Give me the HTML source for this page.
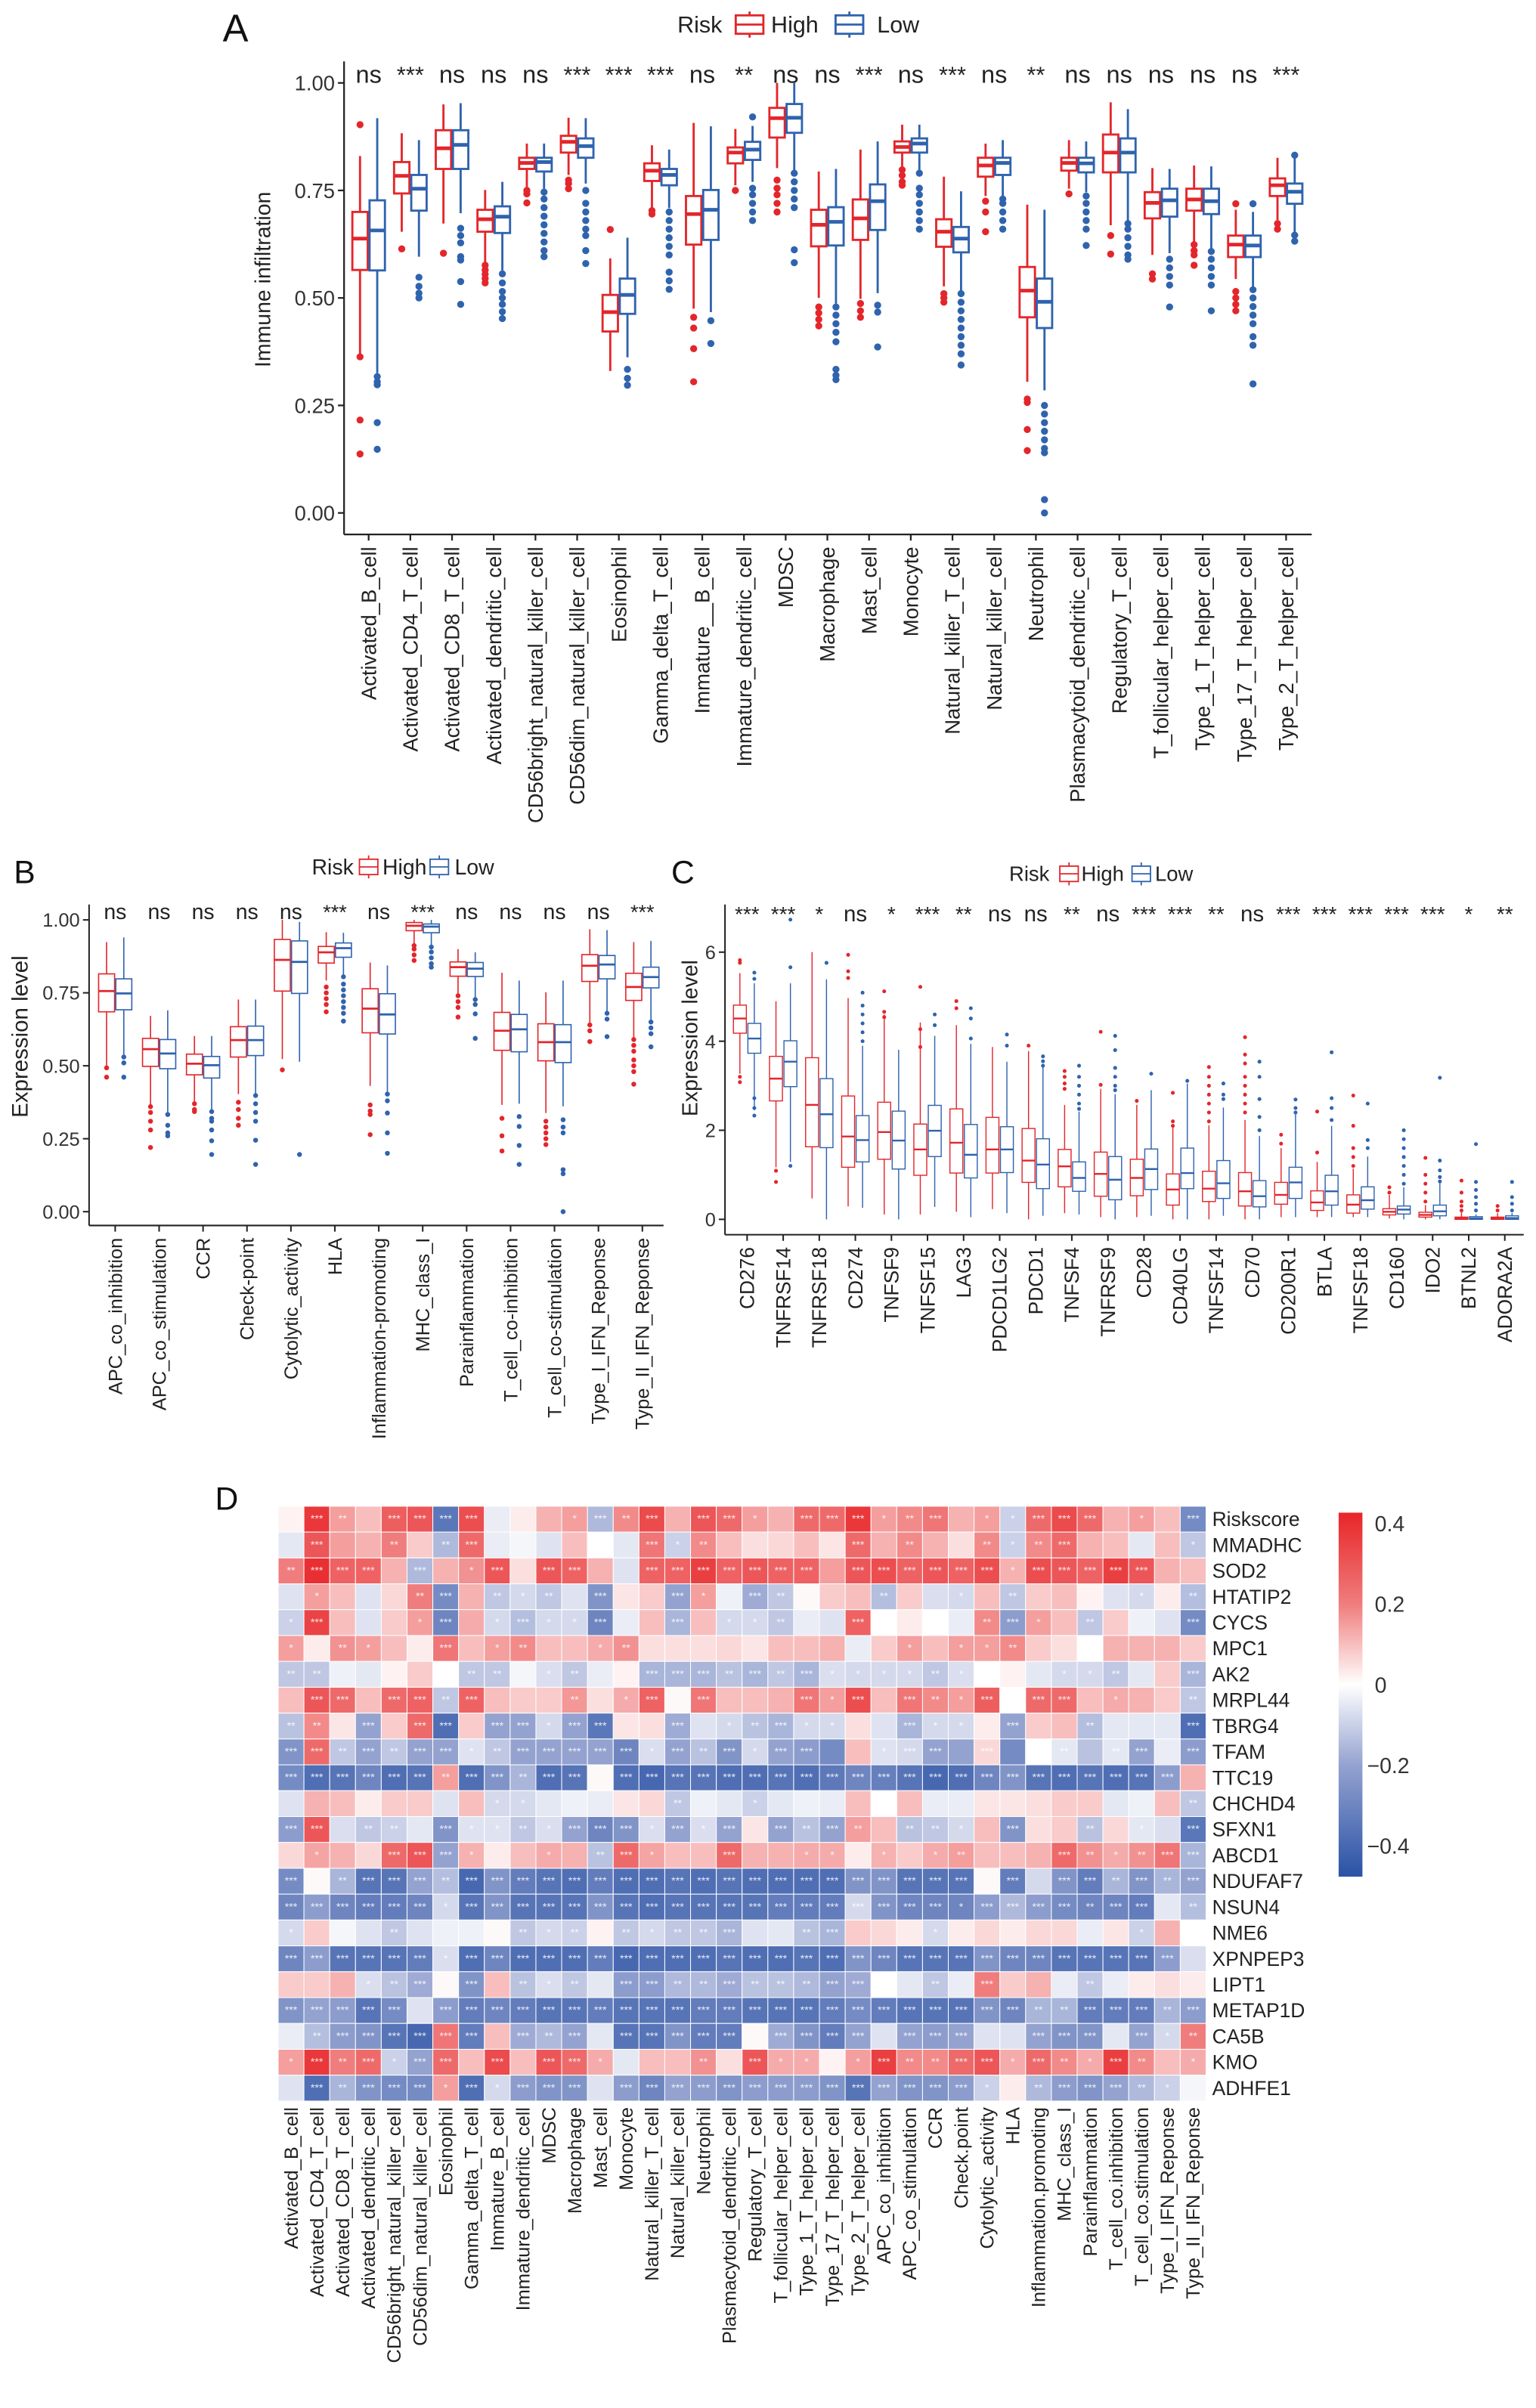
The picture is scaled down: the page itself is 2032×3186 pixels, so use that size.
<!DOCTYPE html>
<html><head><meta charset="utf-8"><title>Immune infiltration figure</title>
<style>
html,body{margin:0;padding:0;background:#fff;}
svg{display:block;font-family:"Liberation Sans",Arial,sans-serif;}
</style></head>
<body>
<svg id="fig" xmlns="http://www.w3.org/2000/svg" width="2032" height="3186" viewBox="0 0 1000 1568" preserveAspectRatio="none">
<rect x="0" y="0" width="1000" height="1568" fill="#fff"/>
</svg>
<script>
// ===== Panel A data =====
const aCats = ["Activated_B_cell","Activated_CD4_T_cell","Activated_CD8_T_cell","Activated_dendritic_cell","CD56bright_natural_killer_cell","CD56dim_natural_killer_cell","Eosinophil","Gamma_delta_T_cell","Immature__B_cell","Immature_dendritic_cell","MDSC","Macrophage","Mast_cell","Monocyte","Natural_killer_T_cell","Natural_killer_cell","Neutrophil","Plasmacytoid_dendritic_cell","Regulatory_T_cell","T_follicular_helper_cell","Type_1_T_helper_cell","Type_17_T_helper_cell","Type_2_T_helper_cell"];
const aSig = ["ns","***","ns","ns","ns","***","***","***","ns","**","ns","ns","***","ns","***","ns","**","ns","ns","ns","ns","ns","***"];
// [lowerWhisker, q1, median, q3, upperWhisker]
const aHighStats = [[.37,.565,.638,.70,.83],[.654,.743,.784,.816,.883],[.673,.80,.848,.89,.95],[.58,.654,.683,.705,.751],[.758,.80,.814,.826,.859],[.786,.838,.863,.877,.919],[.33,.422,.467,.507,.592],[.709,.772,.796,.813,.855],[.475,.624,.695,.737,.907],[.762,.813,.838,.85,.893],[.802,.873,.918,.942,1.0],[.5,.62,.67,.705,.794],[.498,.635,.685,.729,.845],[.802,.838,.851,.864,.903],[.527,.619,.654,.683,.782],[.737,.782,.808,.826,.859],[.305,.455,.517,.572,.717],[.754,.796,.814,.826,.867],[.669,.792,.838,.88,.955],[.60,.685,.721,.746,.802],[.628,.703,.729,.754,.808],[.544,.595,.624,.645,.705],[.681,.737,.762,.778,.826]];
const aHighOut = [[.903,.363,.216,.137],[.614],[.604],[.576,.565,.555,.545,.535],[.75,.742,.721],[.774,.766,.754],[.659],[.703,.695],[.455,.43,.382,.305],[.75],[.774,.755,.74,.72,.70],[.479,.465,.45,.435],[.487,.47,.455],[.798,.785,.77,.762],[.51,.50,.49],[.725,.70,.654],[.265,.257,.194,.145],[.742],[.645,.602],[.556,.544],[.624,.61,.60,.576],[.719,.515,.50,.485,.47],[.673,.66]];
const aLowStats = [[.325,.564,.657,.727,.918],[.596,.703,.754,.786,.867],[.697,.80,.856,.89,.953],[.564,.651,.689,.713,.77],[.754,.794,.816,.826,.859],[.766,.826,.853,.871,.918],[.362,.463,.507,.545,.64],[.709,.762,.786,.80,.845],[.467,.635,.705,.751,.899],[.77,.821,.845,.863,.90],[.794,.884,.919,.951,1.0],[.487,.622,.677,.711,.80],[.511,.658,.725,.764,.864],[.796,.838,.859,.871,.903],[.515,.606,.638,.665,.748],[.737,.786,.814,.826,.867],[.285,.43,.491,.545,.705],[.746,.792,.813,.826,.864],[.677,.792,.838,.871,.939],[.604,.689,.727,.754,.80],[.614,.695,.725,.754,.806],[.523,.595,.622,.645,.70],[.653,.719,.747,.766,.83]];
const aLowOut = [[.317,.305,.298,.21,.148],[.548,.527,.511,.50],[.662,.645,.628,.596,.588,.538,.485],[.556,.535,.515,.50,.485,.468,.452],[.746,.73,.71,.69,.67,.65,.63,.61,.596],[.75,.72,.70,.68,.66,.645,.61,.58],[.334,.313,.297],[.70,.68,.66,.64,.62,.60,.56,.54,.52],[.447,.394],[.921,.755,.74,.72,.70,.68],[.79,.77,.75,.73,.71,.612,.582],[.479,.46,.44,.42,.398,.334,.32,.31],[.483,.467,.386],[.79,.755,.74,.72,.70,.68,.66],[.51,.49,.47,.45,.43,.41,.39,.37,.344],[.73,.72,.70,.68,.66],[.25,.23,.21,.19,.17,.15,.14,.031,0],[.737,.72,.70,.68,.66,.622],[.673,.66,.64,.62,.60,.59],[.59,.57,.55,.53,.479],[.608,.59,.57,.55,.53,.47],[.719,.519,.50,.48,.46,.44,.41,.39,.30],[.832,.646,.632]];
const aTicks = [0,0.25,0.5,0.75,1];
const aTickLabels = ["0.00","0.25","0.50","0.75","1.00"];

// ===== Panel B data =====
const bCats = ["APC_co_inhibition","APC_co_stimulation","CCR","Check-point","Cytolytic_activity","HLA","Inflammation-promoting","MHC_class_I","Parainflammation","T_cell_co-inhibition","T_cell_co-stimulation","Type_I_IFN_Reponse","Type_II_IFN_Reponse"];
const bSig = ["ns","ns","ns","ns","ns","***","ns","***","ns","ns","ns","ns","***"];
const bHighStats = [[.50,.685,.756,.815,.924],[.366,.498,.557,.594,.671],[.375,.469,.507,.54,.602],[.403,.53,.588,.634,.727],[.523,.756,.863,.933,1.0],[.792,.852,.889,.909,.958],[.431,.613,.696,.764,.854],[.917,.963,.98,.991,1.0],[.745,.807,.838,.856,.90],[.366,.553,.62,.683,.819],[.338,.517,.581,.644,.752],[.644,.789,.843,.881,.968],[.594,.724,.77,.817,.924]];
const bHighOut = [[.493,.461],[.36,.34,.31,.28,.22],[.37,.35,.343],[.375,.35,.32,.296],[.486],[.77,.75,.73,.71,.685],[.366,.345,.333,.264],[.912,.90,.88,.861],[.74,.72,.70,.667],[.32,.26,.208],[.31,.29,.27,.25,.23],[.64,.62,.583],[.59,.57,.55,.52,.50,.48,.437]];
const bLowStats = [[.537,.692,.748,.798,.94],[.338,.49,.542,.59,.69],[.347,.458,.502,.532,.602],[.403,.535,.588,.636,.727],[.514,.748,.856,.928,.993],[.81,.872,.903,.921,.956],[.407,.609,.676,.747,.844],[.912,.956,.977,.986,1.0],[.731,.806,.833,.854,.889],[.37,.548,.625,.676,.792],[.361,.511,.581,.641,.792],[.685,.798,.847,.878,.965],[.653,.767,.804,.838,.928]];
const bLowOut = [[.53,.51,.461],[.333,.296,.27,.26],[.343,.32,.31,.28,.243,.196],[.398,.37,.34,.31,.245,.162],[.196],[.805,.78,.76,.74,.72,.70,.68,.653],[.403,.38,.338,.27,.20],[.907,.89,.87,.85,.838],[.727,.71,.678,.594],[.326,.292,.227,.162],[.315,.29,.27,.144,.13,0],[.68,.66,.60],[.65,.63,.61,.565]];
const bTicks = [0,0.25,0.5,0.75,1];
const bTickLabels = ["0.00","0.25","0.50","0.75","1.00"];

// ===== Panel C data =====
const cCats = ["CD276","TNFRSF14","TNFRSF18","CD274","TNFSF9","TNFSF15","LAG3","PDCD1LG2","PDCD1","TNFSF4","TNFRSF9","CD28","CD40LG","TNFSF14","CD70","CD200R1","BTLA","TNFSF18","CD160","IDO2","BTNL2","ADORA2A"];
const cSig = ["***","***","*","ns","*","***","**","ns","ns","**","ns","***","***","**","ns","***","***","***","***","***","*","**"];
const cHighStats = [[3.27,4.18,4.51,4.81,5.53],[1.17,2.66,3.16,3.66,4.9],[.47,1.63,2.57,3.63,6.0],[.29,1.17,1.86,2.77,4.97],[.11,1.35,1.96,2.63,4.6],[.11,.99,1.57,2.14,4.42],[.17,1.04,1.72,2.48,4.36],[.23,1.04,1.57,2.29,3.87],[0,.83,1.32,2.04,3.78],[.14,.73,1.19,1.57,2.57],[.05,.52,1.02,1.51,2.93],[.05,.53,.93,1.35,2.57],[0,.32,.67,1.02,2.08],[0,.4,.69,1.08,2.11],[0,.3,.63,1.05,2.23],[.05,.34,.55,.83,1.6],[.05,.2,.38,.64,1.29],[.05,.14,.33,.55,1.14],[.02,.1,.17,.24,.55],[0,.05,.1,.16,.32],[0,0,.02,.05,.17],[0,0,.02,.05,.14]];
const cHighOut = [[5.82,5.76,3.2,3.08],[1.09,.84],[],[5.94,5.57,5.42],[5.12,4.66,4.54],[5.22,4.27,3.87],[4.9,4.74],[],[3.9],[3.33,3.2,3.05,2.93],[4.21,3.02],[2.66],[2.84,2.2,2.1],[3.42,3.2,3.0,2.8,2.6,2.4,2.2],[4.09,3.7,3.5,3.2,3.0,2.8,2.6,2.4],[1.9,1.7],[2.42,1.5],[2.78,2.1,1.6,1.4,1.2],[.72,.6],[1.38,1.0,.8,.6,.4],[.87,.6,.4,.3,.2],[.3,.2]];
const cLowStats = [[2.45,3.73,4.06,4.4,5.3],[1.29,2.98,3.54,4.01,5.3],[0,1.61,2.36,3.16,5.39],[.26,1.29,1.78,2.33,3.9],[0,1.13,1.77,2.43,3.81],[.28,1.41,1.99,2.56,4.12],[.05,.93,1.45,2.13,3.94],[.14,1.05,1.57,2.08,3.54],[.08,.69,1.23,1.81,3.42],[.11,.63,.93,1.29,2.42],[0,.44,.89,1.41,2.81],[.08,.67,1.13,1.58,2.9],[0,.69,1.04,1.6,3.05],[.08,.47,.81,1.32,2.51],[0,.28,.52,.87,1.87],[.05,.47,.83,1.17,2.36],[.05,.32,.63,.99,2.1],[.05,.23,.43,.73,1.41],[0,.12,.22,.3,.72],[0,.08,.18,.32,.81],[0,0,.02,.06,.11],[0,0,.03,.08,.14]];
const cLowOut = [[5.54,5.4,2.72,2.5,2.33],[6.73,5.66,1.2],[5.76],[5.09,4.8,4.6,4.4,4.2,4.0],[],[4.6,4.36],[4.74,4.51,4.06],[4.15,3.9],[3.66,3.55,3.45],[3.45,3.2,3.0,2.8,2.6,2.48],[4.12,3.8,3.4,3.2,3.0,2.9],[3.27],[3.11],[3.05,2.8,2.7],[3.54,3.2,2.7,2.3,2.0],[2.69,2.5,2.4],[3.75,2.72,2.5,2.23],[2.6,1.78,1.6],[2.0,1.8,1.6,1.4,1.2,1.0,.8],[3.18,1.32,1.1,.95,.85],[1.69,.84,.66,.5,.35,.2],[.84,.5,.35,.2]];
const cTicks = [0,2,4,6];
const cTickLabels = ["0","2","4","6"];

// ===== Panel D data =====
const dCols = ["Activated_B_cell","Activated_CD4_T_cell","Activated_CD8_T_cell","Activated_dendritic_cell","CD56bright_natural_killer_cell","CD56dim_natural_killer_cell","Eosinophil","Gamma_delta_T_cell","Immature_B_cell","Immature_dendritic_cell","MDSC","Macrophage","Mast_cell","Monocyte","Natural_killer_T_cell","Natural_killer_cell","Neutrophil","Plasmacytoid_dendritic_cell","Regulatory_T_cell","T_follicular_helper_cell","Type_1_T_helper_cell","Type_17_T_helper_cell","Type_2_T_helper_cell","APC_co_inhibition","APC_co_stimulation","CCR","Check.point","Cytolytic_activity","HLA","Inflammation.promoting","MHC_class_I","Parainflammation","T_cell_co.inhibition","T_cell_co.stimulation","Type_I_IFN_Reponse","Type_II_IFN_Reponse"];
const dRows = ["Riskscore","MMADHC","SOD2","HTATIP2","CYCS","MPC1","AK2","MRPL44","TBRG4","TFAM","TTC19","CHCHD4","SFXN1","ABCD1","NDUFAF7","NSUN4","NME6","XPNPEP3","LIPT1","METAP1D","CA5B","KMO","ADHFE1"];
const dRiskscore = [.02,.38,.15,.1,.28,.3,-.35,.32,-.04,.03,.12,.15,-.15,.18,.33,.12,.3,.25,.15,.12,.25,.25,.38,.15,.18,.22,.12,.15,-.1,.25,.33,.25,.12,.15,.1,-.28];
const dMMADHC = [-.05,.3,.15,.12,.2,.08,-.15,.25,-.04,-.02,-.06,.1,0,-.05,.22,-.1,.18,.1,.05,.06,.1,.04,.25,.12,.18,.12,.05,.18,-.1,.18,.25,.12,.1,-.05,.1,-.12];
const dSOD2 = [.2,.4,.27,.27,.12,-.15,.12,.17,.3,.05,.3,.27,.12,-.06,.27,.27,.36,.27,.3,.27,.27,.15,.3,.32,.27,.3,.27,.32,.12,.32,.3,.27,.36,.3,.12,.1];
const dHTATIP2 = [-.06,.15,.1,-.06,.06,.2,-.28,.12,-.12,-.08,-.12,-.06,-.25,.04,.08,-.2,.15,-.03,-.18,-.12,.01,.08,.1,-.14,.08,-.07,-.08,.1,-.12,.08,.1,.02,-.06,-.08,.03,-.14];
const dCYCS = [-.1,.35,.1,-.06,.08,.15,-.3,.13,-.08,-.14,-.08,-.08,-.3,-.04,.1,-.16,.1,-.08,-.08,-.12,-.04,-.06,.27,0,.03,0,-.04,.18,-.22,.15,.1,-.12,.08,-.03,-.06,-.28];
const dMPC1 = [.15,.03,.17,.15,.1,.03,.22,.1,.15,.18,.1,.1,.13,.17,.05,.05,.05,.06,.04,.1,.1,.12,-.04,.08,.15,.1,.15,.15,.18,.08,.05,0,.12,.12,.12,.08];
const dAK2 = [-.12,-.12,-.03,-.05,.02,.08,0,-.12,-.12,-.02,-.07,-.12,-.04,.02,-.16,-.16,-.16,-.13,-.16,-.12,-.16,-.07,-.08,-.08,-.08,-.12,-.07,0,.02,-.05,-.08,-.08,-.12,-.05,.08,-.16];
const dMRPL44 = [.1,.3,.25,.1,.25,.27,-.12,.27,.1,.08,.08,.16,.05,.13,.27,.01,.22,.1,.1,.12,.22,.15,.32,.1,.22,.18,.15,.28,0,.25,.25,.1,.13,.12,.08,-.12];
const dTBRG4 = [-.13,.18,.04,-.2,.08,.25,-.38,.08,-.2,-.2,-.08,-.2,-.35,.04,.05,-.18,-.06,-.08,-.13,-.16,-.08,-.08,.05,-.06,-.16,-.08,-.08,.03,-.2,.08,.1,-.14,-.05,-.05,-.05,-.38];
const dTFAM = [-.25,.25,-.12,-.2,-.12,-.2,-.2,-.06,-.12,-.2,-.2,-.2,-.2,-.3,-.07,-.2,-.13,-.25,-.08,-.2,-.22,-.28,.1,-.06,-.08,-.2,-.2,.06,-.28,0,-.05,-.13,-.05,-.2,-.04,-.22];
const dTTC19 = [-.28,-.38,-.36,-.3,-.38,-.36,.15,-.38,-.25,-.16,-.38,-.36,.01,-.38,-.4,-.36,-.36,-.38,-.38,-.36,-.38,-.34,-.3,-.32,-.36,-.4,-.38,-.3,-.25,-.36,-.38,-.36,-.38,-.36,-.22,.12];
const dCHCHD4 = [-.06,.12,.1,.03,.08,.08,-.06,.1,-.08,-.08,-.05,-.03,-.04,.04,.06,-.12,-.03,-.05,-.1,-.05,-.03,-.04,.1,0,.1,-.04,-.04,.04,.04,.05,.08,.08,-.05,-.03,.1,-.12];
const dSFXN1 = [-.22,.3,-.07,-.12,-.1,-.05,-.25,-.06,-.06,-.12,-.07,-.2,-.3,-.25,-.07,-.2,-.07,-.2,.04,-.2,-.13,-.2,.15,.1,-.13,-.12,-.08,.1,-.25,.05,.08,-.13,.06,-.05,-.07,-.35];
const dABCD1 = [.06,.14,.12,.06,.25,.3,-.2,.12,.03,.1,.13,.12,-.13,.25,.14,.1,.1,.25,.12,.12,.13,.13,.03,.12,.08,.13,.15,.1,.1,.12,.25,.17,.13,.17,.22,-.16];
const dNDUFAF7 = [-.28,.01,-.16,-.36,-.36,-.2,-.14,-.4,-.25,-.33,-.36,-.38,-.33,-.38,-.38,-.36,-.38,-.36,-.38,-.38,-.38,-.38,-.25,-.25,-.36,-.36,-.36,.01,-.33,-.08,-.25,-.33,-.16,-.25,-.16,-.2];
const dNSUN4 = [-.3,-.22,-.3,-.33,-.33,-.3,-.08,-.36,-.25,-.36,-.36,-.36,-.25,-.36,-.38,-.36,-.36,-.36,-.36,-.33,-.33,-.33,-.08,-.25,-.3,-.3,-.3,-.22,-.15,-.22,-.28,-.3,-.3,-.33,-.05,-.14];
const dNME6 = [-.08,.08,-.02,-.06,-.12,-.06,-.03,-.03,.01,-.12,-.08,-.1,.02,-.12,-.08,-.12,-.12,-.16,-.06,-.05,-.13,-.16,.08,.06,.03,-.08,.03,.06,.03,.06,.06,-.04,.04,-.1,.12,0];
const dXPNPEP3 = [-.3,-.22,-.36,-.36,-.36,-.33,-.07,-.38,-.3,-.38,-.38,-.38,-.33,-.4,-.38,-.38,-.38,-.36,-.38,-.38,-.36,-.38,-.25,-.3,-.36,-.36,-.36,-.25,-.3,-.3,-.36,-.36,-.36,-.36,-.22,-.07];
const dLIPT1 = [.08,.08,.12,-.07,-.13,-.18,.01,-.25,.1,-.13,-.07,-.12,-.05,-.22,-.22,-.15,-.15,-.18,-.13,-.13,-.15,-.2,-.18,0,-.05,-.12,-.04,.2,.08,.12,-.04,-.12,-.04,.03,.05,.03];
const dMETAP1D = [-.25,-.2,-.22,-.36,-.28,-.06,-.22,-.33,-.3,-.33,-.36,-.36,-.33,-.36,-.36,-.36,-.33,-.33,-.36,-.36,-.36,-.33,-.28,-.33,-.36,-.36,-.36,-.25,-.3,-.16,-.16,-.33,-.33,-.33,-.16,-.22];
const dCA5B = [-.04,-.14,-.22,-.25,-.36,-.4,.22,-.33,.1,-.18,-.15,-.2,-.05,-.36,-.36,-.25,-.33,-.33,.01,-.18,-.25,-.33,-.2,-.06,-.2,-.22,-.2,-.06,-.06,-.2,-.25,-.25,-.05,-.2,-.08,.2];
const dKMO = [.15,.38,.2,.25,-.1,-.2,.25,.1,.33,.1,.3,.25,.13,-.05,.1,.1,.17,.05,.3,.13,.13,.02,.15,.36,.18,.18,.25,.3,.13,.25,.18,.13,.36,.18,.1,.13];
const dADHFE1 = [-.06,-.38,-.16,-.25,-.28,-.28,.15,-.38,-.08,-.22,-.25,-.25,-.06,-.22,-.3,-.2,-.22,-.25,-.22,-.22,-.22,-.25,-.36,-.2,-.25,-.25,-.22,-.1,.03,-.15,-.22,-.25,-.2,-.15,-.1,-.02];
const dValues = [dRiskscore,dMMADHC,dSOD2,dHTATIP2,dCYCS,dMPC1,dAK2,dMRPL44,dTBRG4,dTFAM,dTTC19,dCHCHD4,dSFXN1,dABCD1,dNDUFAF7,dNSUN4,dNME6,dXPNPEP3,dLIPT1,dMETAP1D,dCA5B,dKMO,dADHFE1];
// significance stars per cell (digit = number of stars)
const dStars = ["032033330001323033103331230113330103","030020230000003120000030200212300001","233303013033003333333033333313333300","010002302120300310320002001020000102","130001301311300301120030000231020003","102100301200120000000000101120000000","220000022012003332323111121000112003","033033230002013030003130321303301002","220303303313300301231100311030020003","332323312333331323133001330300202303","333333233233033333333333333333333330","000000001100000200100000000000000002","330220311213331313032320221030020103","010033310010231003001101012000321233","302333233333333333333333333030332323","333333133333333333333333331333323302","100020000212021223002300010000000100","333333133333333333333333333333333330","000123030212033223222330020300020000","333330333333333333333333333332233323","023333330323033333033330333003330312","132313303033100020311013223313213201","032333131333033333333333333102333210"];
const dBarTicks = [0.4,0.2,0,-0.2,-0.4];
const dBarTickLabels = ["0.4","0.2","0","\u22120.2","\u22120.4"];

// ===== drawing =====
const NS = 'http://www.w3.org/2000/svg';
const svg = document.getElementById('fig');
function mk(parent, tag, attrs, text) {
  const e = document.createElementNS(NS, tag);
  for (const k in attrs) e.setAttribute(k, attrs[k]);
  if (text != null) e.textContent = text;
  parent.appendChild(e);
  return e;
}
const RED = '#E3262B', BLUE = '#2F63AE';

function legend(x, y, fs, iconW, iconH, sw, pos) {
  const g = mk(svg, 'g', {});
  
  
  const t = mk(g, 'text', {x: pos.risk, y: y + fs * 0.35, 'font-size': fs, fill: '#222'}, 'Risk');
  
  
  [['High', RED, pos.hi, pos.hiT], ['Low', BLUE, pos.lo, pos.loT]].forEach(function (d) {
    const eg = mk(g, 'g', {});
    
    
    mk(eg, 'line', {x1: d[2] + iconW / 2, x2: d[2] + iconW / 2, y1: y - iconH / 2 - 2.5, y2: y + iconH / 2 + 2.5, stroke: d[1], 'stroke-width': sw});
    mk(eg, 'rect', {x: d[2], y: y - iconH / 2, width: iconW, height: iconH, fill: '#fff', stroke: d[1], 'stroke-width': sw});
    mk(eg, 'line', {x1: d[2], x2: d[2] + iconW, y1: y, y2: y, stroke: d[1], 'stroke-width': sw});
    const lt = mk(eg, 'text', {x: d[3], y: y + fs * 0.35, 'font-size': fs, fill: '#222'}, d[0]);
    
    
  });
}

function boxPanel(P) {
  const g = mk(svg, 'g', {});
  
  
  const X = function (i) { return P.x0 + P.dx * i; };
  const Y = function (v) { return P.y0 - P.sy * v; };
  // axes
  const ya = mk(g, 'line', {x1: P.left, x2: P.left, y1: P.top, y2: P.bottom, stroke: '#222', 'stroke-width': P.axw});
  
  
  const xa = mk(g, 'line', {x1: P.left, x2: P.right, y1: P.bottom, y2: P.bottom, stroke: '#222', 'stroke-width': P.axw});
  
  
  P.ticks.forEach(function (v, k) {
    mk(g, 'line', {x1: P.left - 4, x2: P.left, y1: Y(v), y2: Y(v), stroke: '#222', 'stroke-width': P.axw});
    const tl = mk(g, 'text', {x: P.left - 6, y: Y(v) + P.tfs * 0.36, 'font-size': P.tfs, 'text-anchor': 'end', fill: '#333'}, P.tickLabels[k]);
    
    
  });
  const yt = mk(g, 'text', {transform: 'translate(' + P.ytx + ',' + P.yty + ') rotate(-90)', 'font-size': P.ytfs, 'text-anchor': 'middle', fill: '#222'}, P.ytitle);
  
  
  P.cats.forEach(function (c, i) {
    const cx = X(i);
    mk(g, 'line', {x1: cx, x2: cx, y1: P.bottom, y2: P.bottom + 4, stroke: '#222', 'stroke-width': P.axw});
    const xl = mk(g, 'text', {transform: 'translate(' + (cx + P.xfs * 0.35) + ',' + (P.bottom + 8) + ') rotate(-90)', 'font-size': P.xfs, 'text-anchor': 'end', fill: '#222'}, c);
    
    
    const sg = mk(g, 'text', {x: cx, y: P.sigY, 'font-size': P.sig[i] === 'ns' ? P.sfs : P.sfs * 0.95, 'text-anchor': 'middle', fill: '#222'}, P.sig[i]);
    
    
    [[P.high[i], P.highOut[i], RED, -P.off, 'high'], [P.low[i], P.lowOut[i], BLUE, P.off, 'low']].forEach(function (s) {
      const st = s[0], bx = cx + s[3];
      const bg = mk(g, 'g', {});
      
      
      mk(bg, 'line', {x1: bx, x2: bx, y1: Y(st[4]), y2: Y(st[0]), stroke: s[2], 'stroke-width': P.sw});
      mk(bg, 'rect', {x: bx - P.hw, y: Y(st[3]), width: 2 * P.hw, height: Math.max(0.3, Y(st[1]) - Y(st[3])), fill: '#fff', stroke: s[2], 'stroke-width': P.sw});
      mk(bg, 'line', {x1: bx - P.hw, x2: bx + P.hw, y1: Y(st[2]), y2: Y(st[2]), stroke: s[2], 'stroke-width': P.sw * 1.7});
      s[1].forEach(function (o) {
        const pt = mk(bg, 'circle', {cx: bx, cy: Y(o), r: P.r, fill: s[2]});
        
        
      });
    });
  });
}

boxPanel({name: 'panel-a-boxplot', cats: aCats, sig: aSig, high: aHighStats, highOut: aHighOut, low: aLowStats, lowOut: aLowOut, ticks: aTicks, tickLabels: aTickLabels,
  x0: 240, dx: 27.15, y0: 334, sy: 280, left: 224, right: 854, top: 40, bottom: 348, hw: 5, off: 5.6, sw: 1.4, r: 2.3, axw: 1.1,
  tfs: 13.5, xfs: 13.5, sfs: 16, sigY: 54, ytitle: 'Immune infiltration', ytx: 176, yty: 182, ytfs: 14});
boxPanel({name: 'panel-b-boxplot', cats: bCats, sig: bSig, high: bHighStats, highOut: bHighOut, low: bLowStats, lowOut: bLowOut, ticks: bTicks, tickLabels: bTickLabels,
  x0: 75, dx: 28.6, y0: 789, sy: 190, left: 58, right: 432, top: 589, bottom: 798, hw: 5.2, off: 5.6, sw: 0.8, r: 1.6, axw: 1,
  tfs: 12.5, xfs: 12.5, sfs: 14, sigY: 598.5, ytitle: 'Expression level', ytx: 18, yty: 675, ytfs: 14.5});
boxPanel({name: 'panel-c-boxplot', cats: cCats, sig: cSig, high: cHighStats, highOut: cHighOut, low: cLowStats, lowOut: cLowOut, ticks: cTicks, tickLabels: cTickLabels,
  x0: 486.4, dx: 23.49, y0: 794, sy: 29, left: 472, right: 992, top: 589, bottom: 804, hw: 4.2, off: 4.7, sw: 0.7, r: 1.25, axw: 1,
  tfs: 12.5, xfs: 13, sfs: 14.5, sigY: 600, ytitle: 'Expression level', ytx: 454, yty: 676, ytfs: 14});

legend(16, 16, 15, 18, 12, 1.4, {risk: 441, hi: 479, hiT: 502, lo: 544, loT: 571});
legend(564.5, 564.5, 14, 12, 10, 0.9, {risk: 203, hi: 234, hiT: 249, lo: 280, loT: 296});
legend(569, 569, 13.5, 12, 10, 0.9, {risk: 657, hi: 690, hiT: 704, lo: 737, loT: 752});

// panel letters
[['A', 145, 27, 25], ['B', 9, 575, 21], ['C', 437, 575, 21], ['D', 140, 983, 21]].forEach(function (p) {
  const t = mk(svg, 'text', {x: p[1], y: p[2], 'font-size': p[3], fill: '#111'}, p[0]);
  
  
});

// ===== heatmap =====
const stops = [[0.427, [232, 37, 40]], [0.2, [240, 125, 125]], [0, [255, 255, 255]], [-0.2, [148, 162, 208]], [-0.476, [42, 82, 165]]];
function colorOf(v) {
  if (v >= stops[0][0]) return 'rgb(' + stops[0][1].join(',') + ')';
  if (v <= stops[4][0]) return 'rgb(' + stops[4][1].join(',') + ')';
  for (let k = 0; k < 4; k++) {
    const a = stops[k], b = stops[k + 1];
    if (v <= a[0] && v >= b[0]) {
      const t = (a[0] - v) / (a[0] - b[0]);
      return 'rgb(' + [0, 1, 2].map(function (j) { return Math.round(a[1][j] + (b[1][j] - a[1][j]) * t); }).join(',') + ')';
    }
  }
}
const HX0 = 181.1, HCW = 16.78, HY0 = 980.8, HCH = 16.84;
const hm = mk(svg, 'g', {});


dValues.forEach(function (row, r) {
  row.forEach(function (v, c) {
    const cell = mk(hm, 'rect', {x: HX0 + c * HCW, y: HY0 + r * HCH, width: HCW, height: HCH, fill: colorOf(v), stroke: '#fff', 'stroke-width': 0.5});
    
    
    const n = +dStars[r][c];
    if (n > 0) {
      const st = mk(hm, 'text', {x: HX0 + (c + 0.5) * HCW, y: HY0 + r * HCH + HCH * 0.62, 'font-size': 7, 'text-anchor': 'middle', fill: 'rgba(255,255,255,0.85)'}, '*'.repeat(n));
      
      
    }
  });
});
dRows.forEach(function (name, r) {
  const t = mk(hm, 'text', {x: HX0 + dCols.length * HCW + 4, y: HY0 + (r + 0.5) * HCH + 4.5, 'font-size': 13, fill: '#222'}, name);
  
  
});
dCols.forEach(function (name, c) {
  const cx = HX0 + (c + 0.5) * HCW;
  const t = mk(hm, 'text', {transform: 'translate(' + (cx + 4.3) + ',' + (HY0 + dRows.length * HCH + 4) + ') rotate(-90)', 'font-size': 12.5, 'text-anchor': 'end', fill: '#222'}, name);
  
  
});
// colorbar
const defs = mk(svg, 'defs', {});
const grad = mk(defs, 'linearGradient', {id: 'cbar', x1: 0, y1: 0, x2: 0, y2: 1});
const CB_TOP = 985, CB_BOT = 1222, CB_MAX = 0.427, CB_MIN = -0.476;
stops.forEach(function (s) {
  mk(grad, 'stop', {offset: ((CB_MAX - s[0]) / (CB_MAX - CB_MIN)).toFixed(4), 'stop-color': 'rgb(' + s[1].join(',') + ')'});
});
const cb = mk(svg, 'rect', {x: 871.5, y: CB_TOP, width: 15.5, height: CB_BOT - CB_TOP, fill: 'url(#cbar)'});


dBarTicks.forEach(function (v, k) {
  const yy = CB_TOP + (CB_MAX - v) / (CB_MAX - CB_MIN) * (CB_BOT - CB_TOP);
  const t = mk(svg, 'text', {x: v < 0 ? 890 : 895, y: yy + 5, 'font-size': 14, fill: '#333'}, dBarTickLabels[k]);
  
  
});
</script>
</body></html>
